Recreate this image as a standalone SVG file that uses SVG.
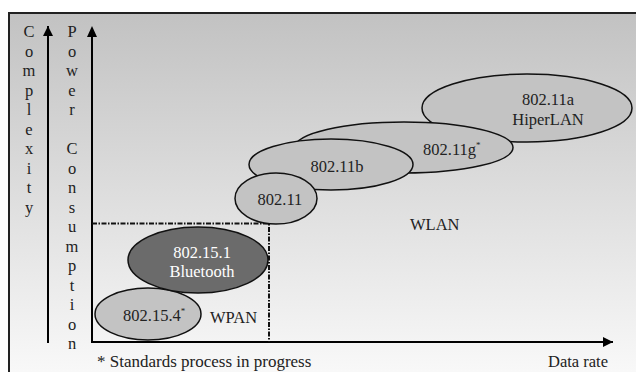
<svg xmlns="http://www.w3.org/2000/svg" width="636" height="372" viewBox="0 0 636 372">
<defs>
<linearGradient id="bg" x1="0" y1="0" x2="0" y2="1">
<stop offset="0" stop-color="#c2c2c2"/>
<stop offset="0.5" stop-color="#dedede"/>
<stop offset="1" stop-color="#fafafa"/>
</linearGradient>
<marker id="ah" markerWidth="10" markerHeight="10" viewBox="0 0 10 10" refX="10" refY="5" orient="auto" markerUnits="userSpaceOnUse">
<path d="M0,0 L10,5 L0,10 z" fill="#000"/>
</marker>
</defs>
<style>
text{font-family:"Liberation Serif","Times New Roman",serif;font-size:16.5px;fill:#222}
.c{text-anchor:middle}
.e{fill:#c3c3c3;stroke:#111;stroke-width:1.5}
.d{fill:#6b6b6b;stroke:#111;stroke-width:1.5}
.w{fill:#fff}
.ax{stroke:#000;stroke-width:2;fill:none}
.sup{font-size:9px}
.fn{font-size:17px}
</style>
<rect x="0" y="0" width="636" height="372" fill="#fff"/>
<rect x="9" y="13" width="640" height="370" fill="url(#bg)" stroke="#222" stroke-width="2"/>

<g id="connectors">
<line class="ax" x1="48" y1="343" x2="48" y2="26" marker-end="url(#ah)"/>
<polyline class="ax" points="92,36 92,342 613,342" marker-end="url(#ah)"/>
<path d="M92,26 L87,37 L97,37 z" fill="#000"/>
<polyline points="92,223.5 269,223.5 269,342" fill="none" stroke="#111" stroke-width="2" stroke-dasharray="5,1.5,1.5,1.5"/>
</g>

<g id="complexity-label">
<text class="c" x="29" y="37">C</text>
<text class="c" x="29" y="56.5">o</text>
<text class="c" x="29" y="76">m</text>
<text class="c" x="29" y="95.5">p</text>
<text class="c" x="29" y="115">l</text>
<text class="c" x="29" y="134.5">e</text>
<text class="c" x="29" y="154">x</text>
<text class="c" x="29" y="173.5">i</text>
<text class="c" x="29" y="193">t</text>
<text class="c" x="29" y="212.5">y</text>
</g>

<g id="power-label">
<text class="c" x="72" y="37">P</text>
<text class="c" x="72" y="56.5">o</text>
<text class="c" x="72" y="76">w</text>
<text class="c" x="72" y="95.5">e</text>
<text class="c" x="72" y="115">r</text>
<text class="c" x="72" y="154">C</text>
<text class="c" x="72" y="173.5">o</text>
<text class="c" x="72" y="193">n</text>
<text class="c" x="72" y="212.5">s</text>
<text class="c" x="72" y="232">u</text>
<text class="c" x="72" y="251.5">m</text>
<text class="c" x="72" y="271">p</text>
<text class="c" x="72" y="290.5">t</text>
<text class="c" x="72" y="310">i</text>
<text class="c" x="72" y="329.5">o</text>
<text class="c" x="72" y="349">n</text>
</g>

<g id="n-80211a">
<ellipse class="e" cx="527" cy="108" rx="105" ry="34"/>
<text class="c" x="548" y="105">802.11a</text>
<text class="c" x="548" y="125">HiperLAN</text>
</g>
<g id="n-80211g">
<ellipse class="e" cx="404" cy="147.5" rx="109" ry="25.5"/>
<text x="423" y="155">802.11g<tspan class="sup" dy="-7">*</tspan></text>
</g>
<g id="n-80211b">
<ellipse class="e" cx="331" cy="164.5" rx="82" ry="25.5"/>
<text class="c" x="337" y="172">802.11b</text>
</g>
<g id="n-80211">
<ellipse class="e" cx="276" cy="198.5" rx="41" ry="25.5"/>
<text class="c" x="280" y="205">802.11</text>
</g>
<g id="n-802154">
<ellipse class="e" cx="148" cy="314" rx="53" ry="26"/>
<text x="123" y="321">802.15.4<tspan class="sup" dy="-7">*</tspan></text>
</g>
<g id="n-bluetooth">
<ellipse class="d" cx="198" cy="260" rx="70" ry="33"/>
<text class="c w" x="202" y="258">802.15.1</text>
<text class="c w" x="202" y="277">Bluetooth</text>
</g>

<g id="labels">
<text x="410" y="230">WLAN</text>
<text x="210" y="323">WPAN</text>
<text class="fn" x="97" y="367">* Standards process in progress</text>
<text x="548" y="367">Data rate</text>
</g>
</svg>
